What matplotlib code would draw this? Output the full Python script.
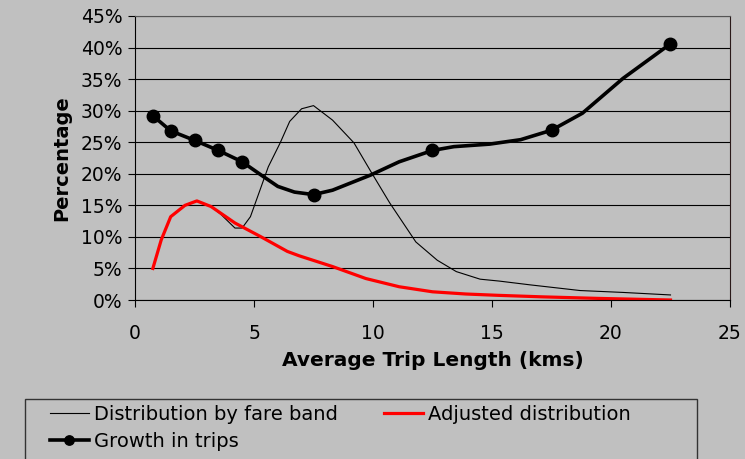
import numpy as np
import matplotlib
matplotlib.use("Agg")
import matplotlib.pyplot as plt
from matplotlib.patches import Rectangle

# distribution by fare band (thin black)
fare_x = [0.75, 1.1, 1.5, 2.1, 2.6, 3.2, 3.6, 4.2, 4.5, 4.85, 5.25, 5.6, 6.1, 6.5, 7.0, 7.5,
          8.3, 9.2, 9.95, 10.7, 11.8, 12.7, 13.5, 14.5, 15.3, 16.6, 18.7, 20.5, 22.5]
fare_y = [5.0, 9.5, 13.2, 15.0, 15.7, 14.8, 13.6, 11.4, 11.4, 13.2, 17.4, 21.1, 24.9, 28.3, 30.3, 30.8,
          28.5, 24.9, 20.1, 15.4, 9.2, 6.3, 4.5, 3.3, 3.0, 2.4, 1.5, 1.2, 0.8]

# adjusted distribution (red)
adj_x = [0.75, 1.1, 1.5, 2.1, 2.6, 3.2, 4.2, 5.3, 6.4, 6.9, 8.3, 9.7, 11.1, 12.5, 13.9,
         15.25, 17.1, 19.5, 22.5]
adj_y = [5.0, 9.5, 13.2, 15.0, 15.7, 14.8, 12.2, 10.0, 7.7, 7.0, 5.3, 3.4, 2.1, 1.3, 0.95,
         0.74, 0.5, 0.25, 0.0]

# growth in trips (thick black with markers)
grow_x = [0.75, 1.5, 2.5, 3.5, 4.5, 5.3, 6.0, 6.7, 7.5, 8.3, 9.9, 11.1, 12.5, 13.4, 14.9,
          16.2, 17.5, 18.8, 20.5, 22.5]
grow_y = [29.2, 26.8, 25.3, 23.7, 21.9, 19.8, 18.0, 17.1, 16.7, 17.4, 19.8, 21.9, 23.7, 24.3, 24.7,
          25.4, 26.9, 29.6, 35.1, 40.6]
grow_marks = [0, 1, 2, 3, 4, 8, 12, 16, 19]

bg = "#c0c0c0"
fs = 13.5
plt.rcParams['font.family'] = ['DejaVu Sans']
plt.rcParams['font.size'] = fs

fig = plt.figure(figsize=(7.45, 4.59), dpi=100, facecolor=bg)
ax = fig.add_axes([135/745, 1-300/459, 595/745, 284/459])
ax.set_facecolor(bg)

l1, = ax.plot(fare_x, fare_y, color="black", lw=0.8, label="Distribution by fare band")
l2, = ax.plot(adj_x, adj_y, color="#ff0000", lw=2.3, label="Adjusted distribution")
l3, = ax.plot(grow_x, grow_y, color="black", lw=2.6, marker="o", markersize=9,
              markevery=grow_marks, label="Growth in trips")

ax.set_xlim(0, 25)
ax.set_ylim(0, 45)
ax.set_xticks(range(0, 26, 5))
ax.set_yticks(range(0, 46, 5))
ax.set_yticklabels([f"{v}%" for v in range(0, 46, 5)])
ax.yaxis.grid(True, color="black", lw=0.8)
ax.set_axisbelow(True)
ax.tick_params(axis="both", direction="out", length=5, width=0.8, colors="black", labelsize=fs)
ax.tick_params(axis="x", pad=12)
ax.tick_params(axis="y", pad=4)
for s in ax.spines.values():
    s.set_color("black")
    s.set_linewidth(0.8)
ax.spines["right"].set_color("#2a1a1a")
ax.spines["top"].set_color("#555555")

ax.set_xlabel("Average Trip Length (kms)", fontweight="bold", fontsize=14.5, labelpad=6)
ax.set_ylabel("Percentage", fontweight="bold", fontsize=14, labelpad=7)

# legend box like the excel one, bottom edge runs off the figure
fig.patches.append(Rectangle((25/745, -0.05), 672/745, 0.05+1-399/459, transform=fig.transFigure,
                             facecolor=bg, edgecolor="#333333", lw=1))
fig.legend([l1, l3, l2], ["Distribution by fare band", "Growth in trips", "Adjusted distribution"],
           ncol=2, loc="upper left", bbox_to_anchor=(46/745, 1-401/459), frameon=False,
           fontsize=14, handlelength=2.0, handletextpad=0.25, columnspacing=2.4,
           labelspacing=0.4, borderaxespad=0, borderpad=0.2, markerscale=0.75)

fig.savefig("out.png", dpi=100, facecolor=bg)
